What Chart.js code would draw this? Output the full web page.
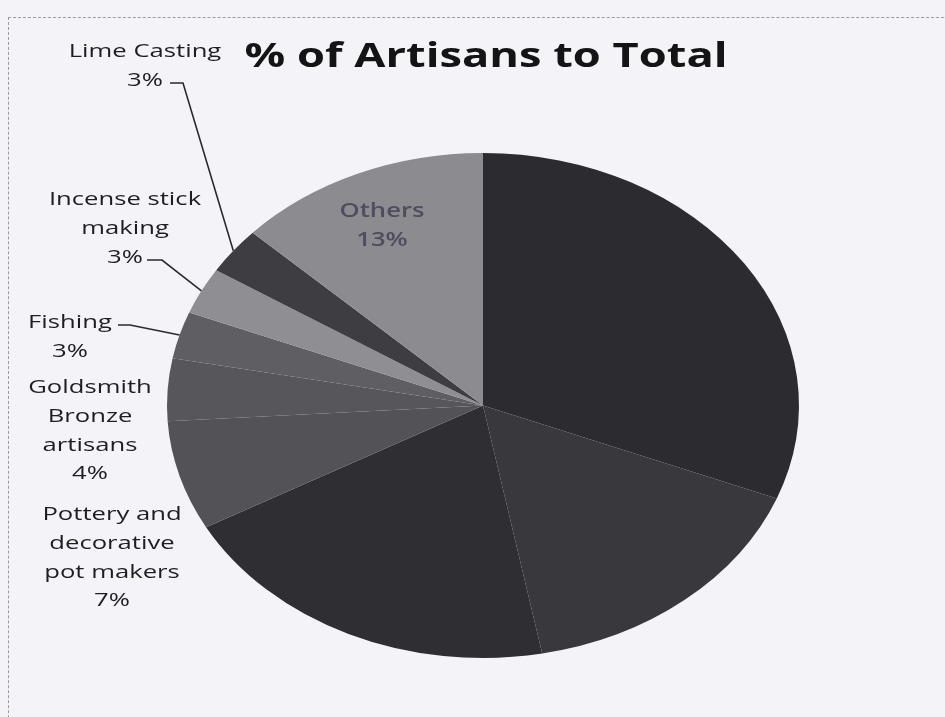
<!DOCTYPE html>
<html><head><meta charset="utf-8">
<script src="https://cdn.jsdelivr.net/npm/chart.js@4.4.0/dist/chart.umd.min.js"></script>
<style>
html,body{margin:0;padding:0;background:#f4f4f8;}
#wrap{position:relative;width:945px;height:717px;overflow:hidden;background:#f4f4f8;}
#frame{position:absolute;left:8px;top:17px;width:980px;height:760px;border-top:1px dashed #9a9aa2;border-left:1px dashed #9a9aa2;}
canvas{position:absolute;left:0;top:0;}
</style></head><body>
<div id="wrap"><div id="frame"></div><canvas id="c" width="945" height="717"></canvas></div>
<script>
// ---- data (clockwise from 12 o'clock) ----
const categories = ['Unlabelled group 1', 'Unlabelled group 2', 'Unlabelled group 3',
  'Pottery and decorative pot makers', 'Goldsmith Bronze artisans', 'Fishing',
  'Incense stick making', 'Lime Casting', 'Others'];
const values = [31, 16, 20, 7, 4, 3, 3, 3, 13];
const sliceColors = ['#2c2c30', '#38383d', '#2f2f33', '#525257', '#56565b', '#5e5e63', '#8e8e93', '#3e3e42', '#8b8b90'];
const titleText = '% of Artisans to Total';

// ---- label layout (text lines and where they sit) ----
const labelLines = [null, null, null,
  ['Pottery and', 'decorative', 'pot makers'],
  ['Goldsmith', 'Bronze', 'artisans'],
  ['Fishing'],
  ['Incense stick', 'making'],
  ['Lime Casting'],
  ['Others']];
const labelLayout = [null, null, null,
  {x: 112, y: 520},
  {x: 90, y: 393},
  {x: 70, y: 328, leader: [118, 130, 325]},
  {x: 125, y: 205, leader: [147, 162, 260]},
  {x: 145, y: 57, leader: [170, 183, 83]},
  {x: 382, y: 217, inside: true}];

const STRETCH_X = 316 / 252.5;   // pie drawn as an ellipse
const TEXT_SX = 1.35;            // horizontally widened lettering
const LINE_H = 28.8;

function wideText(ctx, t, x, y, sx) {
  ctx.save();
  ctx.translate(x, y);
  ctx.scale(sx, 1);
  ctx.fillText(t, 0, 0);
  ctx.restore();
}

const ellipsePlugin = {
  id: 'ellipse',
  beforeDatasetsDraw(chart) {
    const arc = chart.getDatasetMeta(0).data[0];
    const ctx = chart.ctx;
    ctx.save();
    ctx.translate(arc.x, arc.y);
    ctx.scale(STRETCH_X, 1);
    ctx.translate(-arc.x, -arc.y);
  },
  afterDatasetsDraw(chart) {
    const ctx = chart.ctx;
    ctx.restore();
    const meta = chart.getDatasetMeta(0);
    ctx.save();
    ctx.textAlign = 'center';
    ctx.textBaseline = 'alphabetic';
    meta.data.forEach((arc, i) => {
      const lay = labelLayout[i];
      if (!lay) return;
      const lines = labelLines[i].concat([values[i] + '%']);
      if (lay.inside) {
        ctx.font = '600 19px "Open Sans"';
        ctx.fillStyle = '#4e4e5c';
      } else {
        ctx.font = '19px "Open Sans"';
        ctx.fillStyle = '#1e1e22';
      }
      lines.forEach((t, k) => wideText(ctx, t, lay.x, lay.y + k * LINE_H, TEXT_SX));
      if (lay.leader) {
        const mid = (arc.startAngle + arc.endAngle) / 2;
        const px = arc.x + STRETCH_X * arc.outerRadius * Math.cos(mid);
        const py = arc.y + arc.outerRadius * Math.sin(mid);
        ctx.strokeStyle = '#2a2a2e';
        ctx.lineWidth = 1.6;
        ctx.beginPath();
        ctx.moveTo(lay.leader[0], lay.leader[2]);
        ctx.lineTo(lay.leader[1], lay.leader[2]);
        ctx.lineTo(px, py);
        ctx.stroke();
      }
    });
    ctx.font = 'bold 33.5px "Open Sans"';
    ctx.fillStyle = '#141416';
    wideText(ctx, titleText, 486, 67, TEXT_SX);
    ctx.restore();
  }
};

new Chart(document.getElementById('c'), {
  type: 'pie',
  data: {
    labels: categories,
    datasets: [{
      data: values,
      backgroundColor: sliceColors,
      borderWidth: 0,
      clip: false
    }]
  },
  options: {
    responsive: false,
    animation: false,
    radius: 252.5,
    layout: { padding: { left: 230.5, right: 209.5, top: 153, bottom: 59 } },
    plugins: {
      legend: { display: false },
      title: { display: false },
      tooltip: { enabled: false }
    }
  },
  plugins: [ellipsePlugin]
});
</script>
</body></html>
